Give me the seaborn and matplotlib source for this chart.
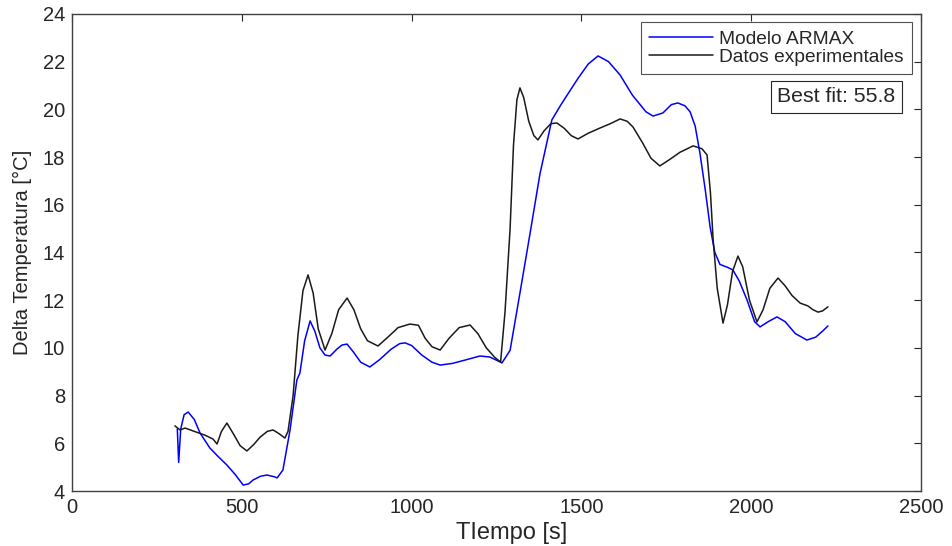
import numpy as np
import pandas as pd
import matplotlib
matplotlib.use("Agg")
import matplotlib.pyplot as plt
import seaborn as sns

t_exp = [303, 318, 333, 360, 390, 415, 427, 440, 456, 475, 495, 515, 535, 554, 575, 592, 610, 627,
         636, 651, 665, 680, 695, 710, 725, 745, 765, 785, 810, 830, 850, 870, 901, 930, 960, 995,
         1020, 1040, 1060, 1084, 1110, 1140, 1172, 1195, 1220, 1245, 1262, 1275, 1290, 1300, 1310,
         1319, 1330, 1345, 1360, 1372, 1390, 1410, 1428, 1450, 1470, 1490, 1520, 1555, 1585, 1614,
         1635, 1652, 1680, 1705, 1731, 1760, 1790, 1829, 1855, 1870, 1880, 1888, 1900, 1917, 1930,
         1945, 1961, 1975, 1995, 2017, 2035, 2055, 2079, 2100, 2120, 2144, 2167, 2182, 2197, 2210, 2226]
y_exp = [6.73, 6.56, 6.64, 6.5, 6.35, 6.18, 5.97, 6.5, 6.85, 6.4, 5.9, 5.68, 5.95, 6.26, 6.5, 6.56, 6.4, 6.22,
         6.5, 8.0, 10.5, 12.4, 13.06, 12.3, 10.8, 9.91, 10.6, 11.6, 12.09, 11.6, 10.8, 10.3, 10.08, 10.45, 10.85, 11.0,
         10.95, 10.4, 10.05, 9.91, 10.4, 10.85, 10.96, 10.6, 10.0, 9.6, 9.41, 11.5, 15.0, 18.5, 20.4,
         20.9, 20.5, 19.5, 18.9, 18.72, 19.1, 19.4, 19.43, 19.2, 18.9, 18.76, 19.0, 19.22, 19.4, 19.6,
         19.5, 19.26, 18.6, 17.95, 17.63, 17.9, 18.2, 18.47, 18.35, 18.09, 16.5, 14.52, 12.5, 11.04, 11.8,
         13.2, 13.85, 13.4, 12.0, 11.09, 11.6, 12.5, 12.93, 12.6, 12.2, 11.88, 11.76, 11.6, 11.5, 11.55, 11.72]

# salida del modelo ARMAX
t_mod = [310, 314, 320, 330, 342, 360, 377, 406, 430, 456, 480, 504, 520, 533, 555, 574, 595, 604, 621,
         642, 662, 671, 685, 701, 715, 730, 745, 760, 780, 795, 810, 830, 850, 877, 905, 940, 965, 981,
         1000, 1030, 1060, 1084, 1120, 1160, 1201, 1230, 1255, 1266, 1290, 1319, 1349, 1378, 1413, 1440,
         1458, 1490, 1520, 1549, 1580, 1614, 1650, 1690, 1711, 1740, 1765, 1784, 1805, 1820, 1835, 1849,
         1865, 1879, 1893, 1908, 1930, 1946, 1965, 1988, 2010, 2026, 2050, 2076, 2100, 2130, 2164, 2190,
         2210, 2226]
y_mod = [6.6, 5.2, 6.6, 7.2, 7.31, 7.0, 6.43, 5.8, 5.45, 5.09, 4.7, 4.25, 4.3, 4.46, 4.62, 4.67, 4.6, 4.55, 4.88,
         6.56, 8.65, 8.95, 10.3, 11.13, 10.7, 10.0, 9.7, 9.66, 9.95, 10.12, 10.16, 9.8, 9.4, 9.2, 9.5, 9.95, 10.18, 10.21,
         10.1, 9.7, 9.4, 9.28, 9.35, 9.5, 9.66, 9.62, 9.45, 9.37, 9.9, 12.3, 14.82, 17.3, 19.56, 20.2,
         20.6, 21.3, 21.9, 22.24, 22.0, 21.44, 20.6, 19.9, 19.72, 19.85, 20.2, 20.27, 20.15, 19.9, 19.3, 18.17,
         16.6, 15.07, 14.0, 13.5, 13.38, 13.27, 12.8, 12.0, 11.1, 10.88, 11.1, 11.3, 11.1, 10.6, 10.33, 10.45,
         10.7, 10.92]

best_fit = 55.8

sns.set_style("white")
plt.rcParams['font.family'] = ['Liberation Sans', 'DejaVu Sans']

fig = plt.figure(figsize=(9.53, 5.46), dpi=100)
ax = fig.add_axes([0.0756, 0.1007, 0.8908, 0.8737])

df_mod = pd.DataFrame({'t': t_mod, 'y': y_mod})
df_exp = pd.DataFrame({'t': t_exp, 'y': y_exp})
sns.lineplot(data=df_mod, x='t', y='y', ax=ax, color='#0000ff', lw=1.1, sort=False, label='Modelo ARMAX')
sns.lineplot(data=df_exp, x='t', y='y', ax=ax, color='#1a1a1a', lw=1.1, sort=False, label='Datos experimentales')

ax.set_xlim(0, 2500)
ax.set_ylim(4, 24)
ax.set_xticks(np.arange(0, 2501, 500))
ax.set_yticks(np.arange(4, 25, 2))
ax.set_xlabel('TIempo [s]', fontsize=17, color='#262626', labelpad=4)
ax.xaxis.set_label_coords(0.518, -0.065)
ax.set_ylabel('Delta Temperatura [°C]', fontsize=14.5, color='#262626', labelpad=8)
ax.tick_params(direction='in', length=5, width=0.8, top=True, right=True, pad=5,
               labelsize=14.5, colors='#262626', labelcolor='#262626')
for s in ax.spines.values():
    s.set_color('#404040')
    s.set_linewidth(1.0)

leg = ax.legend(loc='upper right', bbox_to_anchor=(0.99, 0.983), fontsize=13.8, frameon=True,
                fancybox=False, edgecolor='#262626', handlelength=3.3, borderpad=0.45,
                labelspacing=0.0, handletextpad=0.35, borderaxespad=0.0)
leg.get_frame().set_linewidth(0.8)

ax.text(0.9, 0.826, 'Best fit: %.1f' % best_fit, transform=ax.transAxes, ha='center', va='center',
        fontsize=15.3, color='#262626',
        bbox=dict(boxstyle='square,pad=0.3', fc='white', ec='#262626', lw=0.8))

fig.savefig('out.png', dpi=100)
